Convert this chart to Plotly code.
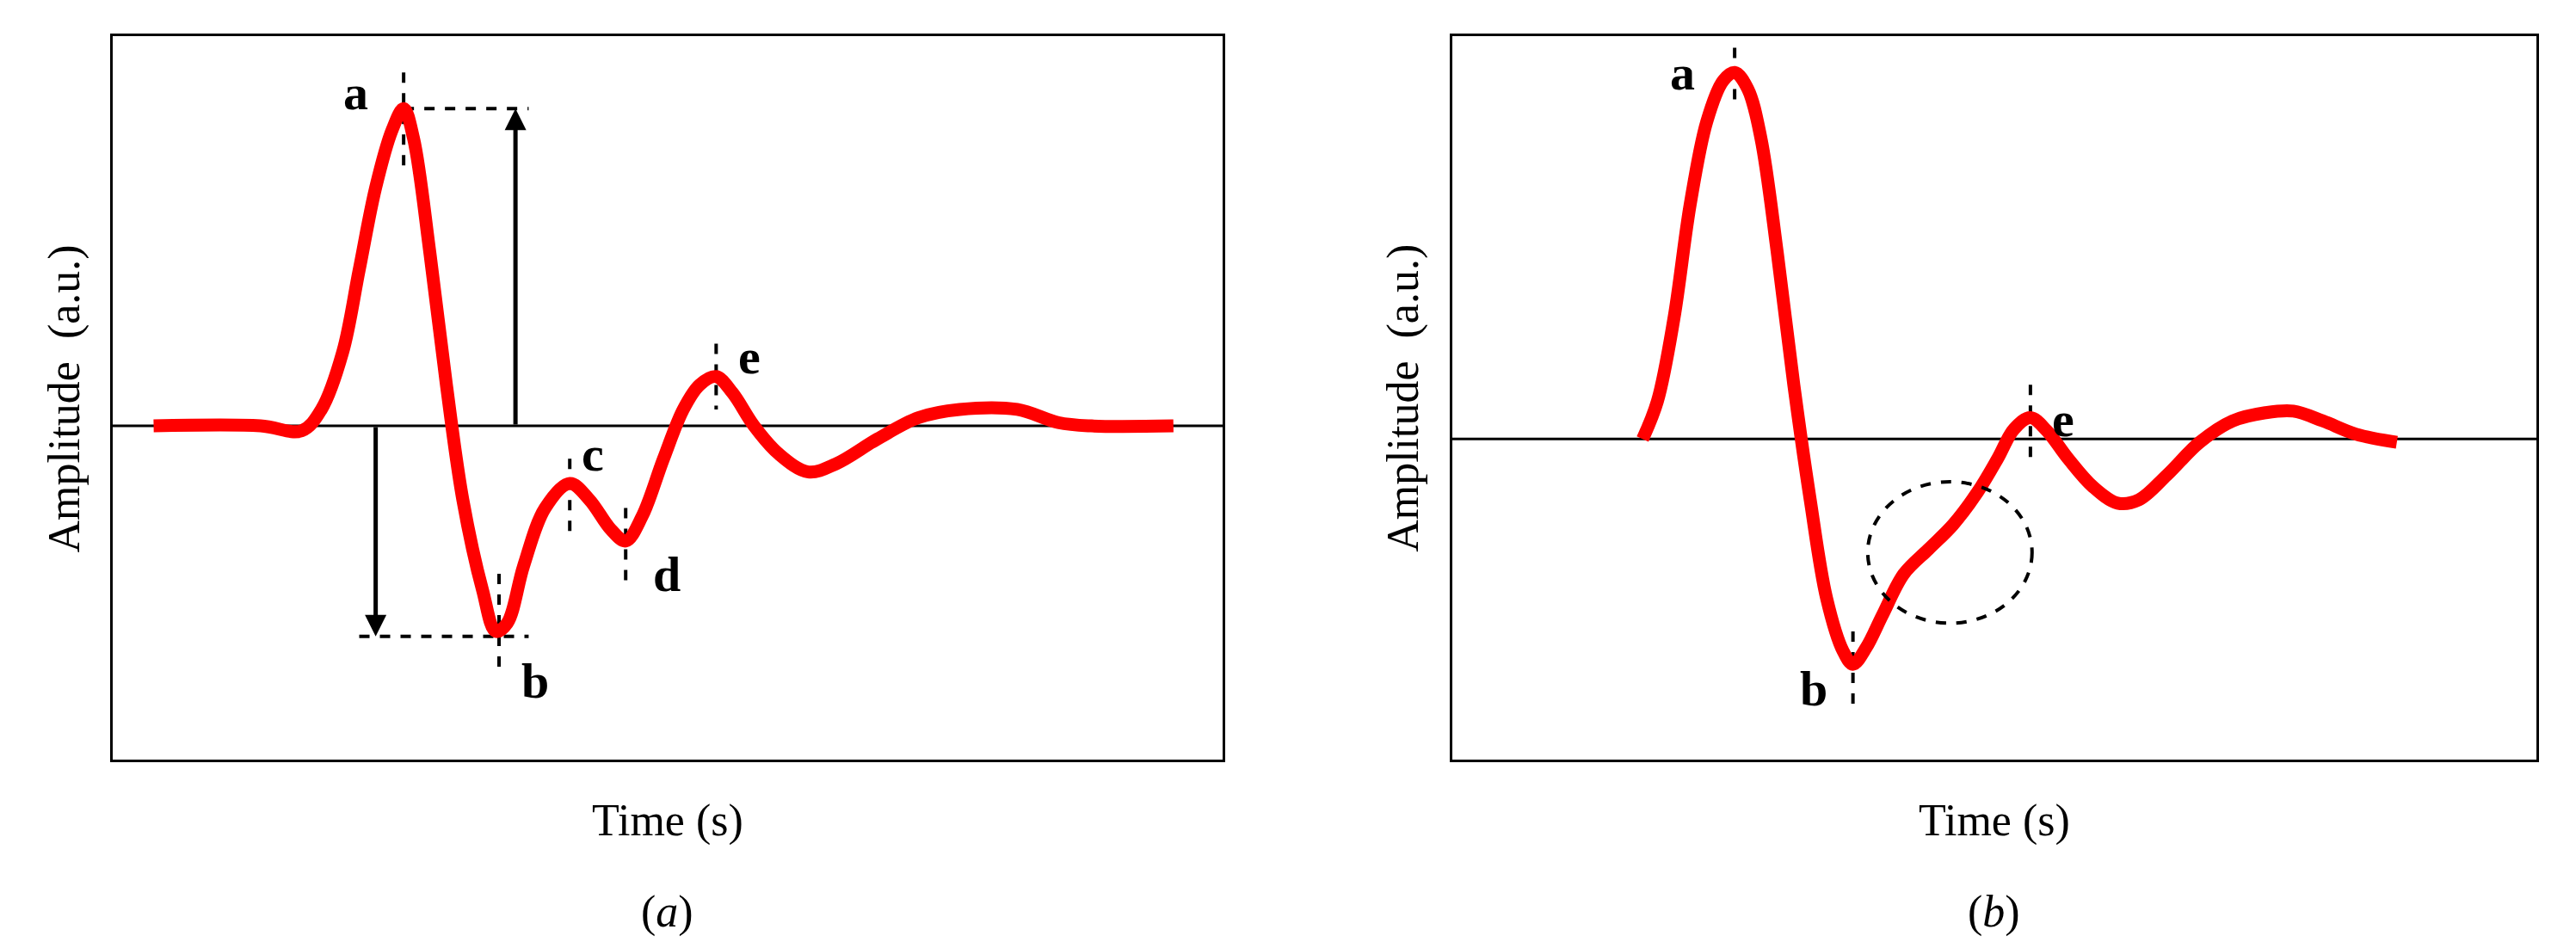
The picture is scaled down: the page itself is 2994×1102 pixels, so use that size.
import plotly.graph_objects as go

# Panel (a) waveform (x in panel units, amplitude in a.u.)
a_x = [90,155,180,192,205,215,225,235,242,248,258,268,278,290,298,305,315,328,343,355,368,377,387,400,412,422,432,442,455,470,488,505,530,555,580,615,640,660,710]
a_y = [0,0,-3,10,45,95,145,180,193,175,105,25,-45,-100,-125,-120,-85,-50,-35,-45,-63,-70,-55,-20,10,25,30,20,0,-17,-28,-23,-8,5,10,10,2,0,0]
# Panel (b) waveform
b_x = [996,1005,1015,1025,1035,1045,1052,1060,1068,1078,1088,1098,1108,1118,1124,1132,1142,1155,1170,1185,1200,1212,1222,1232,1242,1255,1270,1285,1298,1315,1335,1355,1375,1392,1410,1430,1455]
b_y = [0,23,73,143,193,218,223,213,183,113,33,-37,-97,-129,-137,-127,-107,-82,-67,-52,-32,-12,6,13,5,-12,-29,-39,-37,-22,-2,11,16,17,11,3,-2]

RED = "#ff0000"
SERIF = "Liberation Serif"
fig = go.Figure()
fig.add_trace(go.Scatter(x=a_x, y=a_y, mode="lines", line=dict(color=RED, width=15, shape="spline"), xaxis="x", yaxis="y", showlegend=False))
fig.add_trace(go.Scatter(x=b_x, y=b_y, mode="lines", line=dict(color=RED, width=15, shape="spline"), xaxis="x2", yaxis="y2", showlegend=False))

ax = dict(showgrid=False, zeroline=False, showticklabels=False, ticks="", showline=True, mirror=True, linecolor="black", linewidth=3)
fig.update_layout(
    width=2994, height=1102, margin=dict(l=0, r=0, t=0, b=0),
    paper_bgcolor="white", plot_bgcolor="white",
    xaxis=dict(ax, domain=[0.041, 0.472], range=[65, 740], anchor="y"),
    yaxis=dict(ax, domain=[0.206, 0.969], range=[-203, 237], anchor="x"),
    xaxis2=dict(ax, domain=[0.561, 0.982], range=[880, 1540], anchor="y2"),
    yaxis2=dict(ax, domain=[0.206, 0.969], range=[-195, 245], anchor="x2"),
)

def line(xr, yr, x0, y0, x1, y1, dash="dash", w=4):
    fig.add_shape(type="line", xref=xr, yref=yr, x0=x0, y0=y0, x1=x1, y1=y1, line=dict(color="black", width=w, dash=dash), layer="below")

# baselines
line("x", "y", 65, 0, 740, 0, "solid", 3)
line("x2", "y2", 880, 0, 1540, 0, "solid", 3)
# panel a dashed guides
line("x", "y", 242, 193, 318, 193)
line("x", "y", 242, 215, 242, 155)
line("x", "y", 215, -128, 318, -128)
line("x", "y", 300, -90, 300, -150)
line("x", "y", 343, -20, 343, -70)
line("x", "y", 377, -50, 377, -97)
line("x", "y", 432, 50, 432, 10)
# arrows
for (x, y0, y1) in [(310, 0, 193), (225, 0, -128)]:
    fig.add_annotation(xref="x", yref="y", axref="x", ayref="y", x=x, y=y1, ax=x, ay=y0, text="", showarrow=True, arrowhead=2, arrowsize=1, arrowwidth=5, arrowcolor="black")
# panel b ticks
line("x2", "y2", 1052, 238, 1052, 203)
line("x2", "y2", 1124, -117, 1124, -162)
line("x2", "y2", 1232, 33, 1232, -12)
fig.add_shape(type="circle", xref="x2", yref="y2", x0=1133, x1=1233, y0=-112, y1=-26, line=dict(color="black", width=4, dash="dash"))

lab = dict(family=SERIF, size=58, color="black")
for (xr, yr, x, y, t) in [("x","y",213,203,"a"),("x","y",322,-155,"b"),("x","y",357,-17,"c"),("x","y",402,-90,"d"),("x","y",452,42,"e"),
                          ("x2","y2",1020,223,"a"),("x2","y2",1100,-152,"b"),("x2","y2",1252,12,"e")]:
    fig.add_annotation(xref=xr, yref=yr, x=x, y=y, text="<b>%s</b>" % t, showarrow=False, font=lab, xanchor="center", yanchor="middle")

tf = dict(family=SERIF, size=52, color="black")
def txt(x, y, t, angle=0):
    fig.add_annotation(xref="paper", yref="paper", x=x, y=y, text=t, textangle=angle, showarrow=False, font=tf, xanchor="center", yanchor="middle")
txt(0.0225, 0.587, "Amplitude  (a.u.)", -90)
txt(0.542, 0.587, "Amplitude  (a.u.)", -90)
txt(0.2565, 0.142, "Time (s)")
txt(0.7715, 0.142, "Time (s)")
txt(0.2565, 0.045, "(<i>a</i>)")
txt(0.7715, 0.045, "(<i>b</i>)")

fig.write_html("out.html")
